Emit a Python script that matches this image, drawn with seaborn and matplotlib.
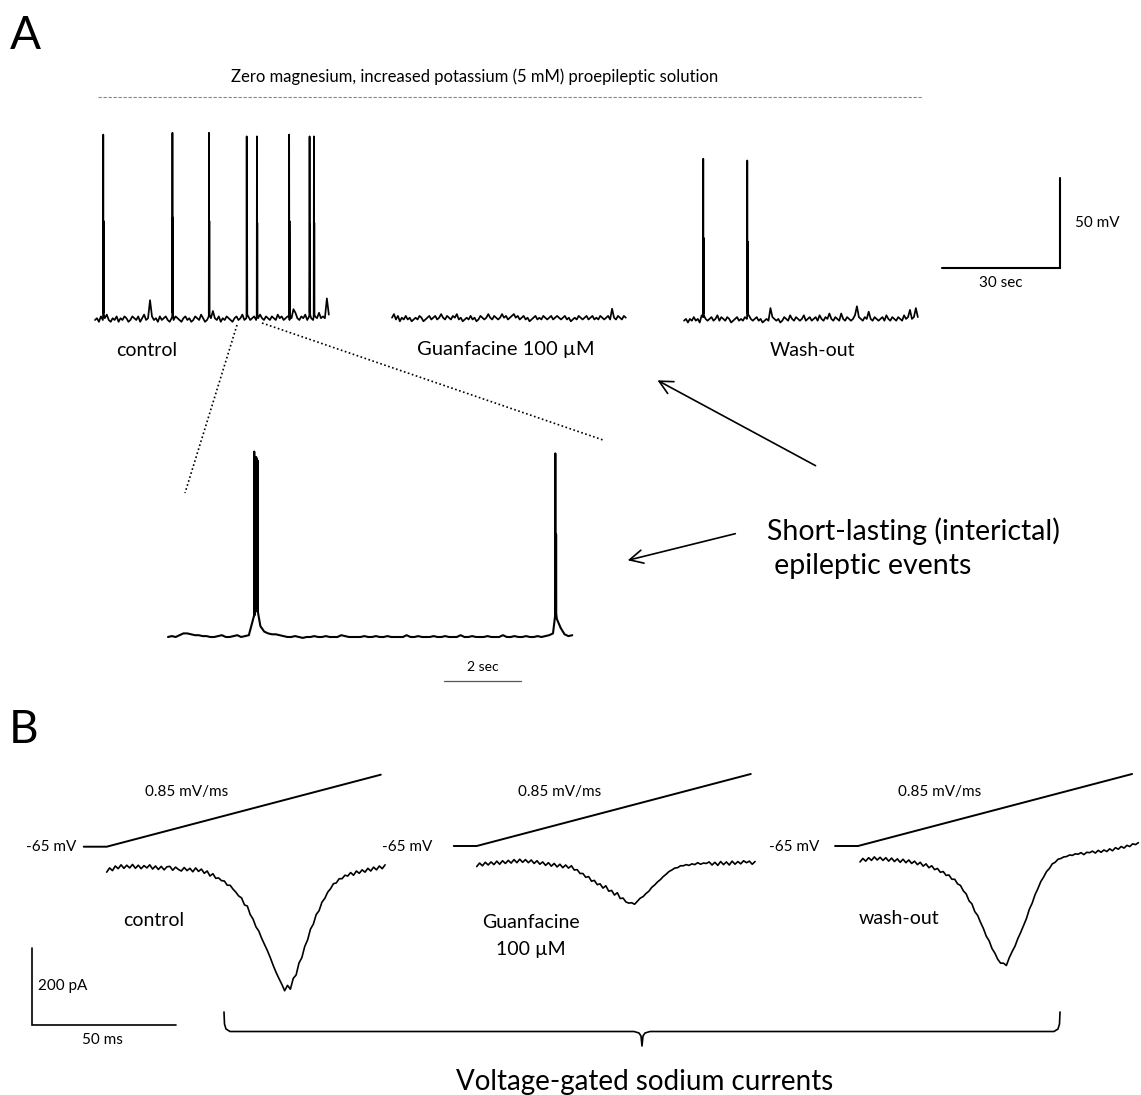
import numpy as np
import pandas as pd
import matplotlib
matplotlib.use("Agg")
import matplotlib.pyplot as plt
import seaborn as sns

sns.set_theme(style="white")
plt.rcParams["font.family"] = ["Lato", "DejaVu Sans"]
plt.rcParams["text.color"] = "black"

# ---------------------------------------------------------------- data
REST = -65.0  # mV

# Panel A, top traces: baseline deviation (mV above rest), sampled every 0.5 s
ctrl_noise = [0, 1, -1, 2, 0, 1, 3, 0, -1, 1,
              0, 2, -1, 1, 0, 2, 1, -1, 0, 2,
              1, 0, 2, -1, 1, 3, 0, 1, 11, 2,
              0, 1, -1, 2, 0, 1, 2, 0, -1, 1,
              0, 2, 1, 0, -1, 1, 2, 0, 1, -1,
              0, 2, 1, 0, 3, 1, -1, 0, 2, 1,
              5, 1, 0, 2, -1, 1, 0, 2, 1, 0,
              -1, 1, 2, 0, 1, 3, 0, 1, 2, 0,
              1, 2, 0, 1, 3, 1, 0, 2, 1, 0,
              2, 1, 0, 3, 1, 2, 0, 1, 2, 0,
              1, 6, 4, 1, 0, 2, 1, 3, 0, 2,
              1, 0, 2, 1, 4, 1, 2, 1, 12, 3]
ctrl_spike_t = [2.1, 19.7, 29.0, 38.6, 41.2, 49.4, 54.6, 55.7]       # s
ctrl_spike_peak = [38, 39, 39, 37, 37, 38, 37, 37]                  # mV
ctrl_spike_sub = [-10, -8, -10, -12, -11, -10, -12, -11]            # mV

guan_noise = [1, 3, 0, 2, -1, 1, 0, 2, 0, 1,
              -1, 0, 1, 0, 2, 1, -1, 0, 1, 2,
              0, 1, 2, 0, 1, 3, 1, 0, 2, 1,
              0, 2, 1, 3, 0, 1, -1, 0, 1, 0,
              2, 0, 1, -1, 0, 2, 1, 0, 1, 3,
              1, 0, 2, 1, 0, 1, 3, 1, 2, 0,
              1, 2, 3, 1, 2, 0, 1, 2, 0, 1,
              -1, 0, 1, 2, 0, 1, 0, 2, 1, 0,
              1, 2, 0, 1, 2, 1, 0, 1, 2, 0,
              1, -1, 0, 1, 0, 2, 1, 0, 1, 2,
              0, 1, 2, 0, 1, 0, 2, 1, 0, 1,
              2, 0, 6, 1, 0, 2, 1, 0, 2, 1]

wash_noise = [0, 1, -1, 1, 0, 2, 0, 1, -1, 3,
              2, 1, 0, 1, 2, 0, 1, 3, 0, 2,
              1, 0, 2, 1, -1, 0, 1, 2, 0, 1,
              0, 2, 1, 3, 1, 0, 1, 2, 0, 1,
              -1, 0, 1, 0, 7, 2, 1, 0, 1, -1,
              0, 2, 1, 0, 3, 1, 0, 2, 1, 0,
              1, 3, 0, 1, 2, 0, 1, 2, 0, 3,
              1, 0, 2, 1, 4, 1, 0, 2, 1, 0,
              4, 1, 0, 2, 1, 0, 1, 3, 8, 2,
              1, 0, 2, 1, 5, 1, 0, 2, 1, 0,
              1, 2, 0, 3, 1, 0, 2, 1, 0, 2,
              1, 0, 3, 1, 2, 6, 1, 2, 7, 2]
wash_spike_t = [4.9, 16.1]
wash_spike_peak = [25, 24]
wash_spike_sub = [-19, -21]

# Panel A, expanded trace: deviation (mV above rest) sampled every 0.1 s
zoom_noise = [0, 0.5, 0, 1, 2, 2, 1.5, 1, 1, 0.5,
              0.5, 0, 0, 0.5, 1, 0, 0, 0.5, 1, 0,
              0.5, 1, 9, 15, 6, 3, 2, 1.5, 1.5, 1,
              0.5, 0, 0, 0.5, 0, -0.5, 0, 0, 0.5, 0,
              0, 0.5, 0, 0, 0, 1, 0.5, 0, 0, 0,
              0, 0.5, 0, 0, 0.5, 0, 0, 0.5, 0, 0,
              0, 0, 1, 0, 0, 0.5, 0, 0, 0, 0.5,
              0, 0, 0.5, 0, 0, 0, 1, 0, 0, 0.5,
              0, 0, 0, 0.5, 0, 0, 0, 1, 0, 0,
              0.5, 0, 0, 0.5, 0, 0, 0.5, 0, 0.5, 1,
              2, 10, 5, 1.5, 0.5, 1]
zoom_spike_t = [2.24, 2.27, 2.29, 2.31, 2.33, 10.06, 10.08]
zoom_spike_peak = [103, 99, 100, 99, 98, 102, 57]
zoom_spike_foot = [12, 15, 15, 15, 14, 12, 13]

# Panel B: sodium currents (pA), sampled every 1 ms from ramp start
ctrl_current = [-16, -5, -12, 0, -7, 3, -6, 2, -5, 4,
                -6, 2, -7, 1, -5, 3, -8, 0, -9, -1,
                -10, -2, -1, -11, -3, -9, -13, -4, -12, -6,
                -15, -5, -14, -8, -19, -13, -26, -20, -32, -31,
                -38, -39, -50, -50, -60, -68, -78, -83, -101, -104,
                -126, -138, -158, -169, -188, -204, -220, -238, -258, -276,
                -292, -307, -324, -310, -320, -292, -283, -252, -238, -209,
                -192, -164, -151, -126, -116, -94, -84, -68, -59, -46,
                -44, -33, -33, -24, -26, -17, -24, -13, -19, -10,
                -16, -6, -13, -3, -10, 0, -7, 3]
guan_current = [-4, 5, -2, 7, 0, 8, 1, 10, 2, 11,
                4, 12, 5, 14, 6, 15, 7, 14, 6, 13,
                4, 11, 2, 8, -1, 6, -3, 4, -5, 2,
                -7, 0, -8, -2, -13, -12, -22, -22, -32, -30,
                -42, -40, -51, -49, -60, -54, -68, -66, -78, -72,
                -87, -86, -96, -99, -98, -102, -94, -86, -82, -74,
                -68, -58, -52, -44, -38, -30, -24, -17, -13, -8,
                -7, -2, -2, 1, -1, 3, 1, 6, 2, 5,
                4, 8, 0, 7, -1, 9, 1, 8, 0, 10,
                2, 9, 3, 11, 6, 10, 2, 9]
wash_current = [-5, 4, -3, 6, -1, 8, 0, 7, -1, 6,
                -3, 5, -4, 3, -6, 2, -7, 0, -9, -3,
                -12, -6, -16, -10, -20, -15, -25, -22, -32, -30,
                -40, -39, -50, -50, -62, -66, -80, -88, -106, -114,
                -134, -144, -162, -178, -198, -210, -230, -242, -258, -268,
                -268, -274, -254, -238, -224, -204, -188, -170, -152, -128,
                -112, -90, -74, -56, -44, -30, -22, -10, -6, 2,
                4, 8, 9, 13, 12, 16, 15, 19, 14, 20,
                19, 23, 18, 25, 20, 26, 22, 29, 24, 32,
                28, 35, 31, 38, 35, 42, 40, 45]

ramp_t = [-8, 0, 95.5]        # ms
ramp_v = [-65, -65, 16]       # mV (0.85 mV/ms)

# ---------------------------------------------------------------- helpers
W, H = 1141, 1095
fig = plt.figure(figsize=(W / 100, H / 100), dpi=100)
fig.patch.set_facecolor("white")

ov = fig.add_axes([0, 0, 1, 1])
ov.set_xlim(0, W)
ov.set_ylim(H, 0)
ov.axis("off")


def make_axes(box, ref, scale):
    x0, x1, y0, y1 = box
    rx, rt, ry, rv = ref
    sx, sy = scale
    ax = fig.add_axes([x0 / W, 1 - y1 / H, (x1 - x0) / W, (y1 - y0) / H])
    ax.patch.set_alpha(0)
    lims = ((rt + (x0 - rx) / sx, rt + (x1 - rx) / sx),
            (rv - (y1 - ry) / sy, rv + (ry - y0) / sy))
    return ax, lims


def finish(ax, lims):
    ax.set_xlim(*lims[0])
    ax.set_ylim(*lims[1])
    ax.axis("off")


def spike_trace(noise, dt, spk_t, spk_pk, spk_sub, w):
    t = list(np.arange(len(noise)) * dt)
    v = [REST + n for n in noise]
    for ts, pk, sb in zip(spk_t, spk_pk, spk_sub):
        t += [ts - w, ts, ts + w, ts + 2 * w, ts + 3 * w]
        v += [REST + 2, pk, REST + 4, sb, REST + 3]
    df = pd.DataFrame({"t": t, "v": v}).sort_values("t")
    return df


def draw(ax, df, x, y, lw=1.0, color="black"):
    sns.lineplot(data=df, x=x, y=y, ax=ax, color=color, lw=lw,
                 estimator=None, sort=False, legend=False)


SX_A, SY_A = 3.93, 1.8   # px per s, px per mV

# ---------------------------------------------------------------- panel A top
ax, lim = make_axes((88, 345, 115, 335), (95, 0, 320, REST), (SX_A, SY_A))
draw(ax, spike_trace(ctrl_noise, 0.5, ctrl_spike_t, ctrl_spike_peak, ctrl_spike_sub, 0.05), "t", "v", 1.25)
finish(ax, lim)

ax, lim = make_axes((385, 640, 115, 335), (392, 0, 319.5, REST), (SX_A, SY_A))
draw(ax, spike_trace(guan_noise, 0.5, [], [], [], 0.05), "t", "v", 1.25)
finish(ax, lim)

ax, lim = make_axes((675, 1085, 115, 335), (684, 0, 320.7, REST), (SX_A, SY_A))
draw(ax, spike_trace(wash_noise, 0.5, wash_spike_t, wash_spike_peak, wash_spike_sub, 0.05), "t", "v", 1.25)
# scale bar: 30 s, 50 mV
sb_t0, sb_v0 = 65.6, -35.7
ax.plot([sb_t0, sb_t0 + 30, sb_t0 + 30], [sb_v0, sb_v0, sb_v0 + 50], color="black", lw=1.5,
        solid_joinstyle="miter")
finish(ax, lim)

# ---------------------------------------------------------------- panel A expanded
ax, lim = make_axes((160, 590, 440, 690), (168, 0, 637, REST), (38.5, SY_A))
zdf = spike_trace(zoom_noise, 0.1, [], [], [], 0.004)
zt = list(zdf["t"])
zv = list(zdf["v"])
for ts, pk, ft in zip(zoom_spike_t, zoom_spike_peak, zoom_spike_foot):
    zt += [ts - 0.004, ts, ts + 0.004]
    zv += [REST + ft, REST + pk, REST + ft]
zdf = pd.DataFrame({"t": zt, "v": zv}).sort_values("t")
draw(ax, zdf, "t", "v", 1.5)
ax.plot([7.17, 9.17], [-89.4, -89.4], color="#555555", lw=0.9)
finish(ax, lim)

# ---------------------------------------------------------------- panel B
SX_B, SY_B = 2.87, 0.385     # px per ms, px per pA
SY_R = 0.889                 # px per mV for command ramp

traces_B = [
    (ctrl_current, (20, 400, 830, 1045), 106.7, 866, 106.7, 846.7),
    (guan_current, (440, 770, 830, 1000), 476.7, 865, 476.7, 846.0),
    (wash_current, (820, 1141, 830, 1000), 860.0, 860, 858.0, 846.0),
]
for k, (cur, box, rx, ry, rrx, rry) in enumerate(traces_B):
    ax, lim = make_axes(box, (rx, 0, ry, 0), (SX_B, SY_B))
    df = pd.DataFrame({"t": np.arange(len(cur)) * 1.0, "i": cur})
    draw(ax, df, "t", "i", 1.2)
    if k == 0:
        sb_x, sb_y = -26.0, -413.0
        ax.plot([sb_x, sb_x, sb_x + 50], [sb_y + 200, sb_y, sb_y], color="black", lw=1.2,
                solid_joinstyle="miter")
    finish(ax, lim)

    rbox = (box[0] if k else 60, box[1], 760, 860)
    axr, liml = make_axes(rbox, (rrx, 0, rry, -65), (SX_B, SY_R))
    rdf = pd.DataFrame({"t": ramp_t, "v": ramp_v})
    draw(axr, rdf, "t", "v", 1.4)
    finish(axr, liml)

# ---------------------------------------------------------------- annotations
ov.text(25, 36, "A", fontsize=33, ha="center", va="center")
ov.text(24, 730, "B", fontsize=33, ha="center", va="center")

ov.text(475, 77, "Zero magnesium, increased potassium (5 mM) proepileptic solution",
        fontsize=12, ha="center", va="center")
ov.plot([98, 922], [97, 97], color="#888888", lw=0.8, linestyle=(0, (3, 1.5)))

ov.text(147, 350, "control", fontsize=14, ha="center", va="center")
ov.text(506, 350, "Guanfacine 100 \u00b5M", fontsize=14.5, ha="center", va="center")
ov.text(812, 350, "Wash-out", fontsize=14, ha="center", va="center")
ov.text(1075, 223, "50 mV", fontsize=11, ha="left", va="center")
ov.text(1001, 283, "30 sec", fontsize=11, ha="center", va="center")
ov.text(483, 667, "2 sec", fontsize=10, ha="center", va="center")

ov.plot([237, 185], [325, 493], color="black", lw=1.2, linestyle=(0, (1, 1.5)))
ov.plot([262, 603], [323, 440], color="black", lw=1.2, linestyle=(0, (1, 1.5)))

arrow = dict(arrowstyle="->", lw=1.2, color="black", mutation_scale=24)
ov.annotate("", xy=(655, 379), xytext=(818, 467), arrowprops=arrow)
ov.annotate("", xy=(625, 561), xytext=(738, 533), arrowprops=arrow)
ov.text(767, 531, "Short-lasting (interictal)", fontsize=20.5, ha="left", va="center")
ov.text(767, 566, " epileptic events", fontsize=20.5, ha="left", va="center")

for xr in (76, 432, 819):
    ov.text(xr, 847, "-65 mV", fontsize=11, ha="right", va="center")
for xc in (187, 560, 940):
    ov.text(xc, 792, "0.85 mV/ms", fontsize=11, ha="center", va="center")
ov.text(154, 920, "control", fontsize=14, ha="center", va="center")
ov.text(531, 922, "Guanfacine", fontsize=14, ha="center", va="center")
ov.text(531, 950, "100 \u00b5M", fontsize=14, ha="center", va="center")
ov.text(899, 919, "wash-out", fontsize=14, ha="center", va="center")
ov.text(38, 986, "200 pA", fontsize=11, ha="left", va="center")
ov.text(102, 1040, "50 ms", fontsize=11, ha="center", va="center")

bx = [224, 224.5, 226, 230, 634, 639, 641, 642, 643, 645, 650, 1054, 1058, 1059.5, 1060]
by = [1012, 1024, 1029, 1031.5, 1031.5, 1033, 1036, 1046, 1036, 1033, 1031.5, 1031.5, 1029, 1024, 1012]
ov.plot(bx, by, color="black", lw=1.2)
ov.text(645, 1082, "Voltage-gated sodium currents", fontsize=20, ha="center", va="center")

fig.savefig("out.png", dpi=100, facecolor="white")
